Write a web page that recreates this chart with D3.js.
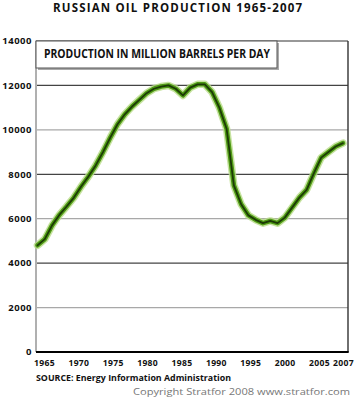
<!DOCTYPE html>
<html><head><meta charset="utf-8">
<script src="https://cdn.jsdelivr.net/npm/d3@7"></script>
<style>body{margin:0;background:#fff}svg{display:block}</style>
</head><body>
<script>
const years = d3.range(1965, 2008);
const production = [4800,5080,5700,6170,6550,6950,7450,7900,8400,9000,9650,10250,10700,11050,11350,11650,11850,11950,12000,11850,11550,11900,12050,12050,11700,11000,10050,7500,6650,6150,5950,5800,5900,5800,6050,6500,6950,7300,8050,8750,9000,9250,9400];
const yTicks = [0,2000,4000,6000,8000,10000,12000,14000];
const xTicks = [1965,1970,1975,1980,1985,1990,1995,2000,2005,2007];
const titleText = "RUSSIAN OIL PRODUCTION 1965-2007";
const legendText = "PRODUCTION IN MILLION BARRELS PER DAY";
const sourceText = "SOURCE:  Energy Information Administration";
const copyText = "Copyright Stratfor 2008   www.stratfor.com";

const W = 356, H = 400;
const L = 36, R = 348, T = 41, B = 352;
const svg = d3.select("body").append("svg").attr("width", W).attr("height", H);
const font = "'Open Sans', 'DejaVu Sans', sans-serif";

const x = d3.scaleLinear().domain([1965, 2007]).range([37.5, 343]);
const xLab = d3.scaleLinear().domain([1965, 2005]).range([44.5, 319.5]);
const y = d3.scaleLinear().domain([0, 14000]).range([B, T]);

// title
svg.append("text").attr("x", 53).attr("y", 12).attr("textLength", 249).attr("lengthAdjust", "spacing")
  .attr("font-family", font).attr("font-weight", "bold").attr("font-size", 11.5).attr("fill", "#111")
  .text(titleText);

// gridlines
svg.append("g").selectAll("line").data(yTicks.filter(d => d > 0 && d < 14000)).join("line")
  .attr("x1", L).attr("x2", R).attr("y1", d => y(d)).attr("y2", d => y(d))
  .attr("stroke", d => (d / 2000) % 2 === 0 ? "#444" : "#a8a8a8").attr("stroke-width", 1.3);

// frame
svg.append("line").attr("x1", L).attr("x2", L).attr("y1", T).attr("y2", B).attr("stroke", "#b0b0b0").attr("stroke-width", 2);
svg.append("line").attr("x1", L).attr("x2", R).attr("y1", T).attr("y2", T).attr("stroke", "#333").attr("stroke-width", 1.2);
svg.append("line").attr("x1", R).attr("x2", R).attr("y1", T).attr("y2", B).attr("stroke", "#333").attr("stroke-width", 1.4);
svg.append("line").attr("x1", L).attr("x2", R + 0.7).attr("y1", B).attr("y2", B).attr("stroke", "#000").attr("stroke-width", 2);

// y labels
svg.append("g").selectAll("text").data(yTicks).join("text")
  .attr("x", 32).attr("y", d => y(d)).attr("dy", "0.35em").attr("text-anchor", "end")
  .attr("font-family", font).attr("font-weight", "bold").attr("font-size", 9.5).attr("letter-spacing", 0.5).attr("fill", "#111")
  .text(d => d);

// x labels
svg.append("g").selectAll("text").data(xTicks).join("text")
  .attr("x", d => d === 2007 ? x(2007) + 0.5 : xLab(d)).attr("y", 366).attr("text-anchor", "middle")
  .attr("font-family", font).attr("font-weight", "bold").attr("font-size", 8.6).attr("letter-spacing", 0.3).attr("fill", "#111")
  .text(d => d);

// line
const line = d3.line().x((d, i) => x(years[i])).y(d => y(d));
const g = svg.append("g");
g.append("path").attr("d", line(production)).attr("fill", "none").attr("stroke", "#b9dc8a").attr("stroke-width", 7.5).attr("stroke-linejoin", "round").attr("stroke-linecap", "round").attr("opacity", 0.8);
g.append("path").attr("d", line(production)).attr("fill", "none").attr("stroke", "#4e9a14").attr("stroke-width", 4.6).attr("stroke-linejoin", "round").attr("stroke-linecap", "round");
g.append("path").attr("d", line(production)).attr("fill", "none").attr("stroke", "#1c3a06").attr("stroke-width", 1.8).attr("stroke-linejoin", "round").attr("stroke-linecap", "round");

// legend box
svg.append("rect").attr("x", L + 2).attr("y", T + 2).attr("width", 241).attr("height", 27).attr("fill", "#aaa");
svg.append("rect").attr("x", L).attr("y", T).attr("width", 241).attr("height", 27).attr("fill", "#fff").attr("stroke", "#555").attr("stroke-width", 1);
svg.append("text").attr("x", 44).attr("y", 58).attr("textLength", 226).attr("lengthAdjust", "spacingAndGlyphs")
  .attr("font-family", font).attr("font-weight", "bold").attr("font-size", 11.5).attr("fill", "#111")
  .text(legendText);

// source & copyright
svg.append("text").attr("x", 36).attr("y", 381).attr("textLength", 195).attr("lengthAdjust", "spacingAndGlyphs")
  .attr("font-family", font).attr("font-weight", "bold").attr("font-size", 9).attr("fill", "#111")
  .text(sourceText);
svg.append("text").attr("x", 133).attr("y", 395).attr("textLength", 217).attr("lengthAdjust", "spacingAndGlyphs")
  .attr("font-family", font).attr("font-size", 8.5).attr("fill", "#777")
  .text(copyText);
</script>
</body></html>
